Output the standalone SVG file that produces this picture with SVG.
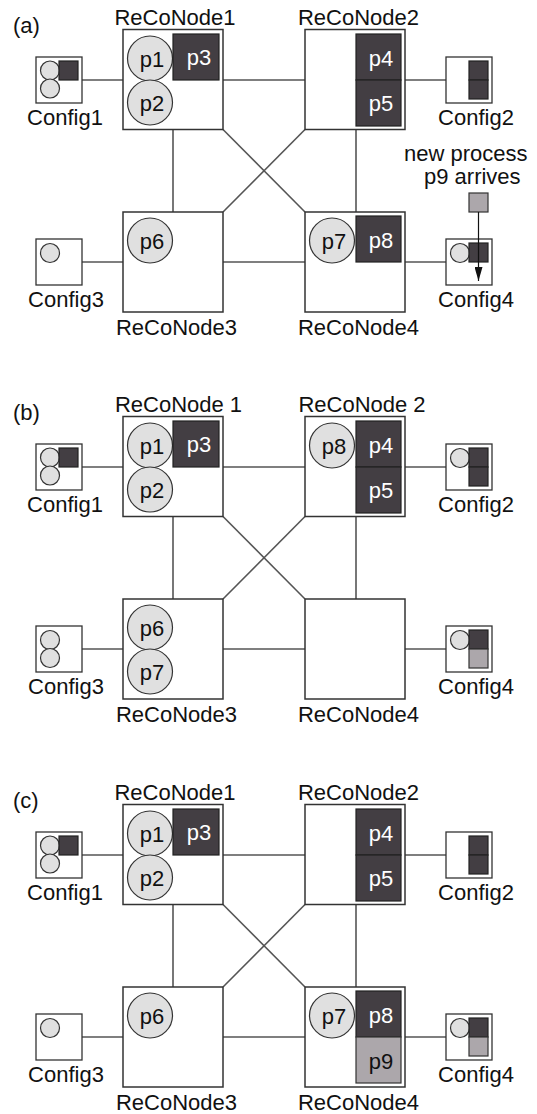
<svg xmlns="http://www.w3.org/2000/svg" width="537" height="1114" viewBox="0 0 537 1114">
<style>
text{font-family:"Liberation Sans",Arial,Helvetica,sans-serif;font-size:22px;fill:#111}
.m{text-anchor:middle}
.wt{fill:#fff}
.node{fill:#fff;stroke:#333;stroke-width:1.5}
.cfg{fill:#fff;stroke:#333;stroke-width:1.3}
.proc{fill:#e0e0e0;stroke:#333;stroke-width:1.2}
.dark{fill:#433e43;stroke:#222;stroke-width:1.2}
.gray{fill:#aca7ab;stroke:#333;stroke-width:1.2}
.conn{stroke:#555;stroke-width:1.6;fill:none}
</style>
<defs>
<marker id="ah" viewBox="0 0 14 8" refX="14" refY="4" markerWidth="14" markerHeight="8" markerUnits="userSpaceOnUse" orient="auto">
<path d="M0,0 L14,4 L0,8 Z" fill="#111"/>
</marker>
<g id="links">
<line class="conn" x1="82" y1="80" x2="123" y2="80"/>
<line class="conn" x1="223" y1="80" x2="305" y2="80"/>
<line class="conn" x1="405" y1="80" x2="446" y2="80"/>
<line class="conn" x1="173" y1="129.5" x2="173" y2="212"/>
<line class="conn" x1="356" y1="129.5" x2="356" y2="212"/>
<line class="conn" x1="223" y1="129.5" x2="305" y2="212"/>
<line class="conn" x1="305" y1="129.5" x2="223" y2="212"/>
<line class="conn" x1="82" y1="262" x2="123" y2="262"/>
<line class="conn" x1="223" y1="262" x2="305" y2="262"/>
<line class="conn" x1="405" y1="262" x2="446" y2="262"/>
</g>
</defs>

<!-- ===== Panel (a) ===== -->
<g id="panel-a">
<text x="13" y="33">(a)</text>
<g id="a-connectors"><use href="#links"/></g>
<g id="a-ReCoNode1">
<rect class="node" x="123" y="29.5" width="100" height="100"/>
<text class="m" x="175" y="25">ReCoNode1</text>
<circle class="proc" cx="150" cy="58.5" r="22.5"/><text class="m" x="152" y="66.5">p1</text>
<circle class="proc" cx="150" cy="102.5" r="22.5"/><text class="m" x="152" y="110.5">p2</text>
<rect class="dark" x="173" y="34" width="46" height="46"/><text class="m wt" x="199" y="65">p3</text>
</g>
<g id="a-ReCoNode2">
<rect class="node" x="305" y="29.5" width="100" height="100"/>
<text class="m" x="358.5" y="25">ReCoNode2</text>
<rect class="dark" x="356" y="34" width="45" height="46"/><text class="m wt" x="381" y="66">p4</text>
<rect class="dark" x="356" y="80" width="45" height="46"/><text class="m wt" x="381" y="111">p5</text>
</g>
<g id="a-ReCoNode3">
<rect class="node" x="123" y="212" width="100" height="100"/>
<text class="m" x="176.5" y="335">ReCoNode3</text>
<circle class="proc" cx="150" cy="240.5" r="22.5"/><text class="m" x="152" y="248.5">p6</text>
</g>
<g id="a-ReCoNode4">
<rect class="node" x="305" y="212" width="100" height="100"/>
<text class="m" x="358.5" y="335">ReCoNode4</text>
<circle class="proc" cx="332" cy="240.5" r="22.5"/><text class="m" x="334" y="248.5">p7</text>
<rect class="dark" x="356" y="216" width="45" height="46"/><text class="m wt" x="381" y="248">p8</text>
</g>
<g id="a-Config1">
<rect class="cfg" x="36" y="57" width="46" height="46"/>
<circle class="proc" cx="50" cy="70.5" r="9.5"/><circle class="proc" cx="50" cy="88.5" r="9.5"/>
<rect class="dark" x="59" y="61" width="19" height="19"/>
<text class="m" x="65" y="125">Config1</text>
</g>
<g id="a-Config2">
<rect class="cfg" x="446" y="57" width="46" height="46"/>
<rect class="dark" x="469" y="61" width="19" height="19"/><rect class="dark" x="469" y="80" width="19" height="19"/>
<text class="m" x="476" y="125">Config2</text>
</g>
<g id="a-Config3">
<rect class="cfg" x="36" y="239" width="46" height="46"/>
<circle class="proc" cx="50" cy="253" r="9.5"/>
<text class="m" x="66" y="307">Config3</text>
</g>
<g id="a-Config4">
<rect class="cfg" x="446" y="239" width="46" height="46"/>
<circle class="proc" cx="460" cy="253" r="9.5"/>
<rect class="dark" x="469" y="243" width="19" height="19"/>
<text class="m" x="476" y="307">Config4</text>
</g>
<g id="a-new-process">
<text x="404" y="161">new process</text>
<text x="424" y="184">p9 arrives</text>
<rect class="gray" x="469" y="193" width="19" height="19"/>
<line x1="478.5" y1="212" x2="478.5" y2="281" stroke="#111" stroke-width="1.2" marker-end="url(#ah)"/>
</g>
</g>

<!-- ===== Panel (b) ===== -->
<g id="panel-b" transform="translate(0,387)">
<text x="13" y="33">(b)</text>
<g id="b-connectors"><use href="#links"/></g>
<g id="b-ReCoNode1">
<rect class="node" x="123" y="29.5" width="100" height="100"/>
<text class="m" x="178.5" y="25">ReCoNode 1</text>
<circle class="proc" cx="150" cy="58.5" r="22.5"/><text class="m" x="152" y="66.5">p1</text>
<circle class="proc" cx="150" cy="102.5" r="22.5"/><text class="m" x="152" y="110.5">p2</text>
<rect class="dark" x="173" y="34" width="46" height="46"/><text class="m wt" x="199" y="65">p3</text>
</g>
<g id="b-ReCoNode2">
<rect class="node" x="305" y="29.5" width="100" height="100"/>
<text class="m" x="362" y="25">ReCoNode 2</text>
<circle class="proc" cx="332" cy="58.5" r="22.5"/><text class="m" x="334" y="66.5">p8</text>
<rect class="dark" x="356" y="34" width="45" height="46"/><text class="m wt" x="381" y="66">p4</text>
<rect class="dark" x="356" y="80" width="45" height="46"/><text class="m wt" x="381" y="111">p5</text>
</g>
<g id="b-ReCoNode3">
<rect class="node" x="123" y="212" width="100" height="100"/>
<text class="m" x="176.5" y="335">ReCoNode3</text>
<circle class="proc" cx="150" cy="240.5" r="22.5"/><text class="m" x="152" y="248.5">p6</text>
<circle class="proc" cx="150" cy="284.5" r="22.5"/><text class="m" x="152" y="292.5">p7</text>
</g>
<g id="b-ReCoNode4">
<rect class="node" x="305" y="212" width="100" height="100"/>
<text class="m" x="358.5" y="335">ReCoNode4</text>
</g>
<g id="b-Config1">
<rect class="cfg" x="36" y="57" width="46" height="46"/>
<circle class="proc" cx="50" cy="70.5" r="9.5"/><circle class="proc" cx="50" cy="88.5" r="9.5"/>
<rect class="dark" x="59" y="61" width="19" height="19"/>
<text class="m" x="65" y="125">Config1</text>
</g>
<g id="b-Config2">
<rect class="cfg" x="446" y="57" width="46" height="46"/>
<circle class="proc" cx="460" cy="71" r="9.5"/>
<rect class="dark" x="469" y="61" width="19" height="19"/><rect class="dark" x="469" y="80" width="19" height="19"/>
<text class="m" x="476" y="125">Config2</text>
</g>
<g id="b-Config3">
<rect class="cfg" x="36" y="239" width="46" height="46"/>
<circle class="proc" cx="50" cy="253" r="9.5"/><circle class="proc" cx="50" cy="271" r="9.5"/>
<text class="m" x="66" y="307">Config3</text>
</g>
<g id="b-Config4">
<rect class="cfg" x="446" y="239" width="46" height="46"/>
<circle class="proc" cx="460" cy="253" r="9.5"/>
<rect class="dark" x="469" y="243" width="19" height="19"/>
<rect class="gray" x="469" y="262" width="19" height="19"/>
<text class="m" x="476" y="307">Config4</text>
</g>
</g>

<!-- ===== Panel (c) ===== -->
<g id="panel-c" transform="translate(0,775)">
<text x="13" y="33">(c)</text>
<g id="c-connectors"><use href="#links"/></g>
<g id="c-ReCoNode1">
<rect class="node" x="123" y="29.5" width="100" height="100"/>
<text class="m" x="175" y="25">ReCoNode1</text>
<circle class="proc" cx="150" cy="58.5" r="22.5"/><text class="m" x="152" y="66.5">p1</text>
<circle class="proc" cx="150" cy="102.5" r="22.5"/><text class="m" x="152" y="110.5">p2</text>
<rect class="dark" x="173" y="34" width="46" height="46"/><text class="m wt" x="199" y="65">p3</text>
</g>
<g id="c-ReCoNode2">
<rect class="node" x="305" y="29.5" width="100" height="100"/>
<text class="m" x="358.5" y="25">ReCoNode2</text>
<rect class="dark" x="356" y="34" width="45" height="46"/><text class="m wt" x="381" y="66">p4</text>
<rect class="dark" x="356" y="80" width="45" height="46"/><text class="m wt" x="381" y="111">p5</text>
</g>
<g id="c-ReCoNode3">
<rect class="node" x="123" y="212" width="100" height="100"/>
<text class="m" x="176.5" y="335">ReCoNode3</text>
<circle class="proc" cx="150" cy="240.5" r="22.5"/><text class="m" x="152" y="248.5">p6</text>
</g>
<g id="c-ReCoNode4">
<rect class="node" x="305" y="212" width="100" height="100"/>
<text class="m" x="358.5" y="335">ReCoNode4</text>
<circle class="proc" cx="332" cy="240.5" r="22.5"/><text class="m" x="334" y="248.5">p7</text>
<rect class="dark" x="356" y="216" width="45" height="46"/><text class="m wt" x="381" y="248">p8</text>
<rect class="gray" x="356" y="262" width="45" height="46"/><text class="m" x="381" y="294">p9</text>
</g>
<g id="c-Config1">
<rect class="cfg" x="36" y="57" width="46" height="46"/>
<circle class="proc" cx="50" cy="70.5" r="9.5"/><circle class="proc" cx="50" cy="88.5" r="9.5"/>
<rect class="dark" x="59" y="61" width="19" height="19"/>
<text class="m" x="65" y="125">Config1</text>
</g>
<g id="c-Config2">
<rect class="cfg" x="446" y="57" width="46" height="46"/>
<rect class="dark" x="469" y="61" width="19" height="19"/><rect class="dark" x="469" y="80" width="19" height="19"/>
<text class="m" x="476" y="125">Config2</text>
</g>
<g id="c-Config3">
<rect class="cfg" x="36" y="239" width="46" height="46"/>
<circle class="proc" cx="50" cy="253" r="9.5"/>
<text class="m" x="66" y="307">Config3</text>
</g>
<g id="c-Config4">
<rect class="cfg" x="446" y="239" width="46" height="46"/>
<circle class="proc" cx="460" cy="253" r="9.5"/>
<rect class="dark" x="469" y="243" width="19" height="19"/>
<rect class="gray" x="469" y="262" width="19" height="19"/>
<text class="m" x="476" y="307">Config4</text>
</g>
</g>
</svg>
